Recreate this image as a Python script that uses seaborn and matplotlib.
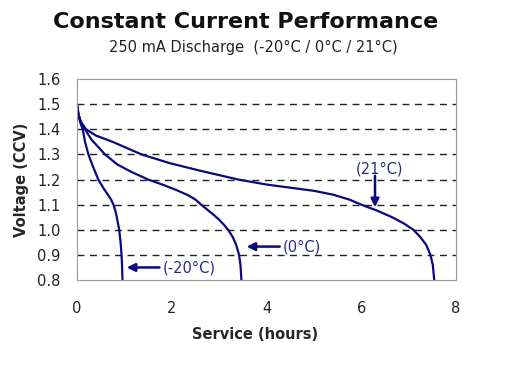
import seaborn as sns
import matplotlib.pyplot as plt
import pandas as pd

# Discharge curves (hours, volts)
t_m20 = [0.0, 0.02, 0.05, 0.08, 0.12, 0.17, 0.24, 0.34, 0.45, 0.56, 0.65, 0.72, 0.77,
         0.81, 0.84, 0.87, 0.89, 0.92, 0.94, 0.95, 0.96]
v_m20 = [1.50, 1.47, 1.44, 1.42, 1.40, 1.35, 1.30, 1.25, 1.20, 1.165, 1.14, 1.12, 1.10,
         1.075, 1.05, 1.02, 1.00, 0.95, 0.90, 0.86, 0.80]

t_0 = [0.0, 0.03, 0.08, 0.17, 0.30, 0.59, 0.85, 1.15, 1.50, 1.80, 2.10, 2.35, 2.50,
       2.62, 2.75, 2.88, 3.00, 3.10, 3.19, 3.29, 3.36, 3.42, 3.45, 3.47]
v_0 = [1.50, 1.46, 1.43, 1.40, 1.36, 1.30, 1.26, 1.23, 1.20, 1.18, 1.158, 1.137, 1.12,
       1.10, 1.08, 1.06, 1.04, 1.02, 1.00, 0.97, 0.94, 0.90, 0.86, 0.80]

t_21 = [0.0, 0.03, 0.08, 0.19, 0.40, 0.75, 1.36, 1.96, 2.60, 3.40, 4.00, 4.60, 5.00,
        5.40, 5.75, 6.00, 6.35, 6.65, 6.90, 7.10, 7.25, 7.37, 7.46, 7.51, 7.53, 7.54]
v_21 = [1.50, 1.46, 1.43, 1.40, 1.375, 1.35, 1.30, 1.265, 1.235, 1.20, 1.18, 1.165, 1.155,
        1.14, 1.12, 1.10, 1.075, 1.05, 1.025, 1.00, 0.97, 0.94, 0.90, 0.86, 0.82, 0.80]

series = ['-20°C', '0°C', '21°C']
x_ticks = [0, 2, 4, 6, 8]
y_ticks = [0.8, 0.9, 1.0, 1.1, 1.2, 1.3, 1.4, 1.5, 1.6]

df = pd.concat([
    pd.DataFrame({'Service': t, 'Voltage': v, 'Temp': s})
    for t, v, s in zip([t_m20, t_0, t_21], [v_m20, v_0, v_21], series)
])

sns.set_style("white")
plt.rcParams['font.family'] = ['DejaVu Sans']

navy = '#0a0a80'
label_blue = '#2a2a8c'

fig = plt.figure(figsize=(5.11, 3.68), dpi=100)
ax = fig.add_axes([0.1507, 0.2391, 0.7417, 0.5462])

sns.lineplot(data=df, x='Service', y='Voltage', hue='Temp', units='Temp',
             estimator=None, sort=False, palette=[navy] * 3, linewidth=1.6,
             legend=False, ax=ax)

ax.set_xlim(0, 8)
ax.set_ylim(0.8, 1.6)
ax.set_xticks(x_ticks)
ax.set_yticks(y_ticks)
ax.set_yticklabels([f'{v:.1f}' for v in y_ticks])
ax.tick_params(axis='both', length=0, labelsize=10.5, colors='#222222')
ax.tick_params(axis='x', pad=15)
ax.tick_params(axis='y', pad=12)

for y in y_ticks[1:-1]:
    ax.axhline(y, color='#222222', linewidth=1.0, linestyle=(0, (5, 4)), zorder=0)

for sp in ax.spines.values():
    sp.set_color('#999999')
    sp.set_linewidth(0.8)

ax.set_xlabel('Service (hours)', fontsize=10.5, fontweight='bold')
ax.set_ylabel('Voltage (CCV)', fontsize=10.5, fontweight='bold', labelpad=6)
ax.xaxis.set_label_coords(0.47, -0.235)

arrow = dict(arrowstyle='-|>', color=navy, lw=1.8, mutation_scale=12, shrinkA=0, shrinkB=0)
ax.annotate('', xy=(6.29, 1.09), xytext=(6.29, 1.215), arrowprops=arrow)
ax.text(6.39, 1.24, '(21°C)', color=label_blue, fontsize=10.5, ha='center', va='center')
ax.annotate('', xy=(3.58, 0.933), xytext=(4.28, 0.933), arrowprops=arrow)
ax.text(4.35, 0.933, '(0°C)', color=label_blue, fontsize=10.5, ha='left', va='center')
ax.annotate('', xy=(1.05, 0.85), xytext=(1.74, 0.85), arrowprops=arrow)
ax.text(1.82, 0.848, '(-20°C)', color=label_blue, fontsize=10.5, ha='left', va='center')

fig.text(0.48, 0.94, 'Constant Current Performance', fontsize=16, fontweight='bold',
         ha='center', va='center', color='#111111')
fig.text(0.495, 0.872, '250 mA Discharge  (-20°C / 0°C / 21°C)', fontsize=10.5,
         ha='center', va='center', color='#222222')

fig.savefig('out.png', dpi=100)
